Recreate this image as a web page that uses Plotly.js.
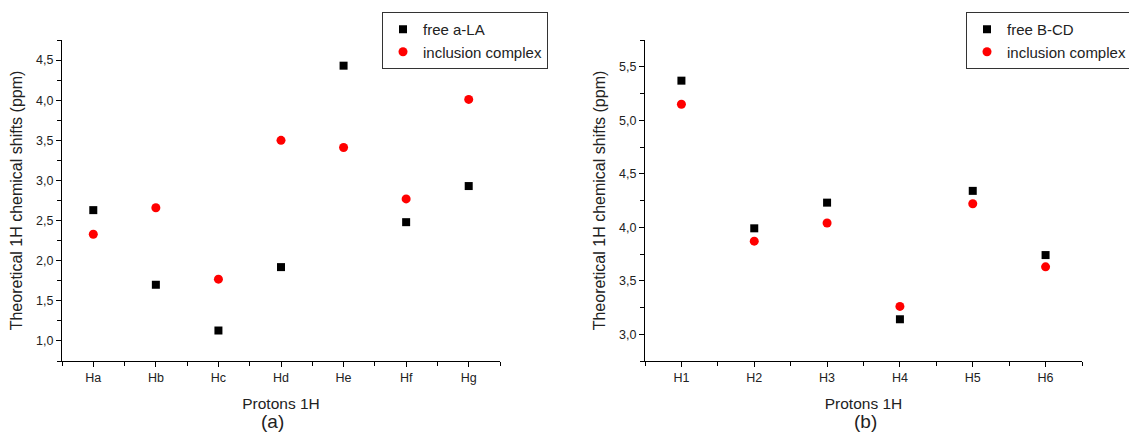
<!DOCTYPE html>
<html>
<head>
<meta charset="utf-8">
<script src="https://cdn.plot.ly/plotly-3.0.1.min.js"></script>
<style>html,body{margin:0;padding:0;background:#fff;}#chart{width:1129px;height:433px;}</style>
</head>
<body>
<div id="chart"></div>
<script>
// Panel (a): alpha-lipoic acid protons
const protonsA = ["Ha", "Hb", "Hc", "Hd", "He", "Hf", "Hg"];
const freeALA = [2.63, 1.70, 1.13, 1.92, 4.43, 2.48, 2.93];
const complexA = [2.33, 2.66, 1.77, 3.50, 3.41, 2.77, 4.01];

// Panel (b): beta-cyclodextrin protons
const protonsB = ["H1", "H2", "H3", "H4", "H5", "H6"];
const freeBCD = [5.37, 3.99, 4.23, 3.14, 4.34, 3.74];
const complexB = [5.15, 3.87, 4.04, 3.26, 4.22, 3.63];

const FONT = "Liberation Sans, Arial, sans-serif";
const W = 1129, H = 433;
const idx = a => a.map((_, i) => i);
const halves = a => [-0.5].concat(a.map((_, i) => i + 0.5));

const sq = {symbol: "square", size: 8, color: "#000000"};
const ci = {symbol: "circle", size: 9, color: "#ff0000"};

const traces = [
  {x: idx(protonsA), y: freeALA, type: "scatter", mode: "markers", name: "free a-LA",
   marker: sq, xaxis: "x", yaxis: "y", legend: "legend"},
  {x: idx(protonsA), y: complexA, type: "scatter", mode: "markers", name: "inclusion complex",
   marker: ci, xaxis: "x", yaxis: "y", legend: "legend"},
  {x: idx(protonsB), y: freeBCD, type: "scatter", mode: "markers", name: "free B-CD",
   marker: sq, xaxis: "x2", yaxis: "y2", legend: "legend2"},
  {x: idx(protonsB), y: complexB, type: "scatter", mode: "markers", name: "inclusion complex",
   marker: ci, xaxis: "x2", yaxis: "y2", legend: "legend2"}
];

const yTitle = "Theoretical 1H chemical shifts (ppm)";
const axisCommon = {
  showline: true, linecolor: "#000", linewidth: 1, mirror: false,
  showgrid: false, zeroline: false,
  ticks: "outside", ticklen: 5, tickwidth: 1, tickcolor: "#000",
  tickfont: {family: FONT, size: 12.5, color: "#222"}
};

function xAxis(cats, domain, anchor) {
  return Object.assign({}, axisCommon, {
    domain: domain, anchor: anchor, range: [-0.5, cats.length - 0.5],
    tickmode: "array", tickvals: idx(cats), ticktext: cats,
    minor: {tickmode: "array", tickvals: halves(cats), ticks: "outside", ticklen: 4, tickcolor: "#000", showgrid: false},
    title: {text: "Protons 1H", font: {family: FONT, size: 15.5, color: "#222"}, standoff: 14}
  });
}
function yAxis(range, domain, anchor) {
  return Object.assign({}, axisCommon, {
    domain: domain, anchor: anchor, range: range,
    tickmode: "linear", tick0: 0, dtick: 0.5, tickformat: ".1f",
    minor: {dtick: 0.25, tick0: 0, ticks: "outside", ticklen: 4, tickcolor: "#000", showgrid: false},
    title: {text: yTitle, font: {family: FONT, size: 16, color: "#222"}, standoff: 9}
  });
}

const yDom = [1 - 361 / H, 1 - 40 / H];
const legendStyle = {
  xref: "paper", yref: "paper", xanchor: "left", yanchor: "top",
  bgcolor: "#fff", bordercolor: "#333", borderwidth: 1,
  font: {family: FONT, size: 15, color: "#222"},
  tracegroupgap: 0
};

const layout = {
  width: W, height: H,
  margin: {l: 0, r: 0, t: 0, b: 0, autoexpand: false},
  paper_bgcolor: "#fff", plot_bgcolor: "#fff",
  separators: ",.",
  font: {family: FONT, color: "#222"},
  xaxis: xAxis(protonsA, [62 / W, 500 / W], "y"),
  yaxis: yAxis([0.75, 4.75], yDom, "x"),
  xaxis2: xAxis(protonsB, [645 / W, 1082 / W], "y2"),
  yaxis2: yAxis([2.75, 5.75], yDom, "x2"),
  legend: Object.assign({}, legendStyle, {x: 382 / W, y: 1 - 12 / H}),
  legend2: Object.assign({}, legendStyle, {x: 966 / W, y: 1 - 12 / H}),
  annotations: [
    {text: "(a)", xref: "paper", yref: "paper", x: 272 / W, y: 1 - 421 / H,
     xanchor: "center", yanchor: "middle", showarrow: false, font: {family: FONT, size: 19, color: "#222"}},
    {text: "(b)", xref: "paper", yref: "paper", x: 865 / W, y: 1 - 421 / H,
     xanchor: "center", yanchor: "middle", showarrow: false, font: {family: FONT, size: 19, color: "#222"}}
  ],
  showlegend: true
};

Plotly.newPlot("chart", traces, layout, {displayModeBar: false, staticPlot: true});
</script>
</body>
</html>
